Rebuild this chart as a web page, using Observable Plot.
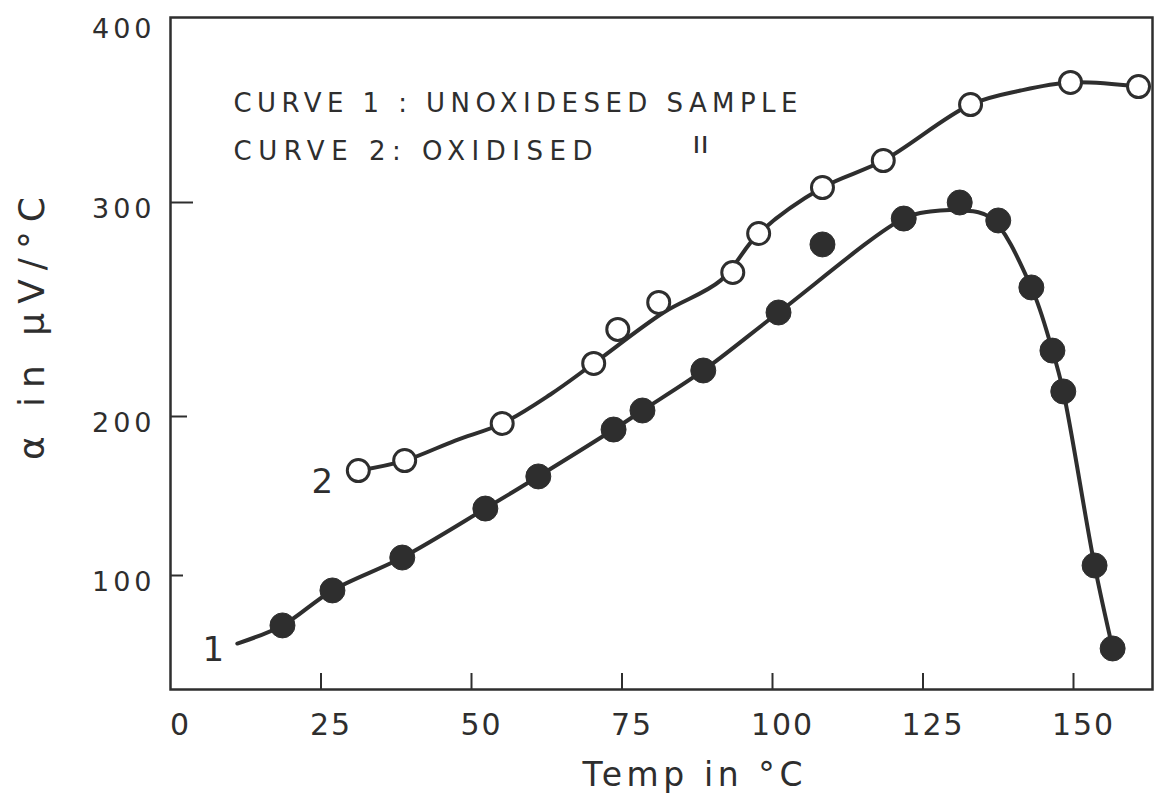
<!DOCTYPE html>
<html>
<head>
<meta charset="utf-8">
<script src="https://cdn.jsdelivr.net/npm/d3@7"></script>
<script src="https://cdn.jsdelivr.net/npm/@observablehq/plot@0.6"></script>
<style>
  html, body { margin: 0; padding: 0; background: #fff; }
  #chart svg { display: block; }
  g[aria-label="x-axis tick label"] text { letter-spacing: 2px; }
  g[aria-label="y-axis tick label"] text { letter-spacing: 4px; }
</style>
</head>
<body>
<div id="chart"></div>
<script>
// Axis tick values
const xTicks = [0, 25, 50, 75, 100, 125, 150];
const yTicks = [100, 200, 300, 400];

// Curve 1: unoxidised sample (filled circles), temperature in °C, alpha in µV/°C
const temp1  = [18.6, 26.9, 38.5, 52.3, 61.1, 73.6, 78.4, 88.5, 101.0, 108.3, 121.8, 131.1, 137.5, 143.0, 146.5, 148.3, 153.5, 156.5];
const alpha1 = [68.6, 90.6, 111.3, 142.1, 162.3, 191.8, 202.8, 221.5, 248.6, 280.4, 292.5, 300.0, 291.6, 260.3, 230.8, 211.7, 106.3, 54.1];

// Curve 2: oxidised sample (open circles)
const temp2  = [31.2, 38.9, 55.1, 70.3, 74.3, 81.1, 93.4, 97.7, 108.3, 118.4, 132.9, 149.5, 160.8];
const alpha2 = [166.0, 172.3, 195.6, 224.8, 240.7, 253.3, 267.3, 285.5, 308.3, 323.3, 354.4, 366.7, 364.4];

// Hand-drawn smooth curves
const fitTemp1  = [11.1, 18.6, 26.9, 38.5, 52.3, 61.1, 73.6, 78.4, 88.5, 101.0, 121.8, 126.2, 131.1, 136.2, 143.0, 146.5, 148.3, 153.5, 156.5];
const fitAlpha1 = [57.2, 68.6, 90.6, 111.3, 142.1, 162.3, 191.8, 202.8, 221.5, 248.6, 292.5, 295.8, 296.3, 293.0, 260.3, 230.8, 211.7, 106.3, 54.1];
const fitTemp2  = [31.2, 38.9, 47.3, 55.1, 63.1, 70.3, 81.9, 91.4, 97.7, 108.3, 118.4, 132.9, 141.2, 149.5, 160.8];
const fitAlpha2 = [166.0, 172.3, 184.9, 195.6, 210.3, 224.8, 248.6, 263.6, 285.5, 308.3, 323.3, 354.4, 362.2, 366.7, 364.4];

// Curve labels
const curveNames = ["1", "2"];
const curveLabelTemp = [7.1, 25.2];
const curveLabelAlpha = [52.8, 158.5];

const legendLine1 = "CURVE 1 : UNOXIDESED SAMPLE";
const legendLine2 = "CURVE 2: OXIDISED";
const dittoMark = "ıı";
const xTitle = "Temp in °C";
const yTitle = "α in μV/°C";

const toRows = (xs, ys) => xs.map((t, i) => ({temp: t, alpha: ys[i]}));
const pts1 = toRows(temp1, alpha1);
const pts2 = toRows(temp2, alpha2);
const fit1 = toRows(fitTemp1, fitAlpha1);
const fit2 = toRows(fitTemp2, fitAlpha2);
const labels = curveNames.map((n, i) => ({name: n, temp: curveLabelTemp[i], alpha: curveLabelAlpha[i]}));

const ink = "#2e2e2e";
const yTickLen = [13, 17, 23];

const chart = Plot.plot({
  width: 1154,
  height: 797,
  marginLeft: 170,
  marginTop: 17,
  marginRight: 2,
  marginBottom: 108,
  style: {fontFamily: "'DejaVu Sans', sans-serif", color: ink, background: "#fff"},
  x: {type: "linear", domain: [0, 150], range: [170, 1073]},
  // the hand-drawn y axis is unevenly spaced: piecewise linear scale
  y: {type: "linear", domain: yTicks, range: [575, 416, 202, 22]},
  marks: [
    Plot.frame({stroke: ink, strokeWidth: 2.5}),
    Plot.axisX(xTicks.slice(1), {anchor: "bottom", tickSize: -16, fill: "none", stroke: ink, strokeWidth: 2}),
    Plot.axisX(xTicks, {anchor: "bottom", tickSize: 0, tickPadding: 24, fontSize: 30, dx: 10, label: null, fill: ink}),
    ...yTicks.slice(0, 3).map((v, i) => Plot.axisY([v], {anchor: "left", tickSize: -yTickLen[i], fill: "none", stroke: ink, strokeWidth: 2})),
    Plot.axisY(yTicks, {anchor: "left", tickSize: 0, tickPadding: 15, fontSize: 27, dy: 7, label: null, fill: ink}),
    Plot.line(fit1, {x: "temp", y: "alpha", curve: "catmull-rom", stroke: ink, strokeWidth: 4}),
    Plot.line(fit2, {x: "temp", y: "alpha", curve: "catmull-rom", stroke: ink, strokeWidth: 4}),
    Plot.dot(pts1, {x: "temp", y: "alpha", r: 12.5, fill: ink, stroke: ink, strokeWidth: 1}),
    Plot.dot(pts2, {x: "temp", y: "alpha", r: 11, fill: "#fff", stroke: ink, strokeWidth: 3}),
    Plot.text(labels, {x: "temp", y: "alpha", text: "name", fontSize: 34, fill: ink}),
    Plot.text([legendLine1], {frameAnchor: "top-left", dx: 63, dy: 86, textAnchor: "start", lineAnchor: "middle", fontSize: 26, fill: ink}),
    Plot.text([legendLine2], {frameAnchor: "top-left", dx: 63, dy: 134, textAnchor: "start", lineAnchor: "middle", fontSize: 26, fill: ink}),
    Plot.text([dittoMark], {frameAnchor: "top-left", dx: 530, dy: 126, textAnchor: "middle", lineAnchor: "middle", fontSize: 30, fill: ink}),
    Plot.text([xTitle], {frameAnchor: "bottom", dx: 31, dy: 86, textAnchor: "middle", lineAnchor: "middle", fontSize: 33, fill: ink}),
    Plot.text([yTitle], {frameAnchor: "left", rotate: -90, dx: -138, dy: -25, textAnchor: "middle", lineAnchor: "middle", fontSize: 36, fill: ink})
  ]
});

// widen the hand-lettered texts to the widths they have in the original
const stretch = (content, length) =>
  d3.select(chart).selectAll("text")
    .filter(function () { return this.textContent === content; })
    .attr("textLength", length)
    .attr("lengthAdjust", "spacing");
stretch(legendLine1, 564);
stretch(legendLine2, 359);
stretch(xTitle, 220);
stretch(yTitle, 263);

document.getElementById("chart").appendChild(chart);
</script>
</body>
</html>
